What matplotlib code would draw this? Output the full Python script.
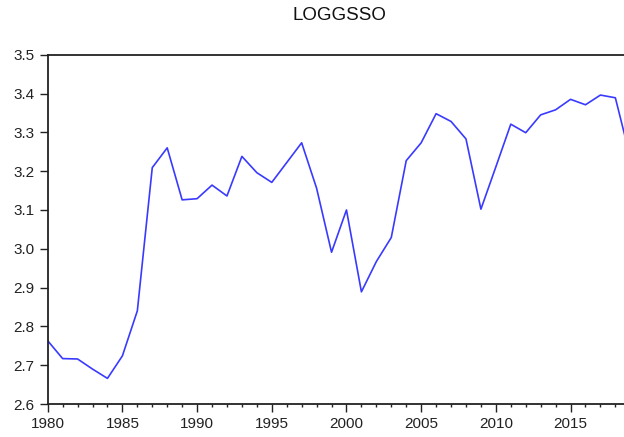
import matplotlib
matplotlib.use("Agg")
import matplotlib.pyplot as plt
from matplotlib.ticker import MultipleLocator, FormatStrFormatter

years = list(range(1980, 2020))
loggsso = [2.763, 2.717, 2.716, 2.690, 2.666, 2.724, 2.840, 3.209, 3.260, 3.126,
           3.129, 3.164, 3.136, 3.238, 3.196, 3.171, 3.222, 3.273, 3.156, 2.991,
           3.100, 2.889, 2.967, 3.029, 3.227, 3.273, 3.348, 3.328, 3.283, 3.102,
           3.211, 3.321, 3.299, 3.345, 3.358, 3.385, 3.371, 3.396, 3.389, 3.235]
title = "LOGGSSO"

plt.rcParams['font.family'] = ['Liberation Sans', 'DejaVu Sans']

W, H = 624, 437
fig = plt.figure(figsize=(W / 100, H / 100), dpi=100)
left, right, bottom, top = 47.7, 630.3, 404.0, 54.7
ax = fig.add_axes([left / W, (H - bottom) / H, (right - left) / W, (bottom - top) / H])

ax.plot(years, loggsso, color='#3a3aff', lw=1.2)
ax.set_xlim(1980, 2019)
ax.set_ylim(2.6, 3.5)
ax.xaxis.set_major_locator(MultipleLocator(5))
ax.xaxis.set_minor_locator(MultipleLocator(1))
ax.yaxis.set_major_locator(MultipleLocator(0.1))
ax.yaxis.set_major_formatter(FormatStrFormatter('%.1f'))

for s in ax.spines.values():
    s.set_color('#222222')
    s.set_linewidth(1.3)

ax.tick_params(axis='both', which='major', labelsize=11, colors='#222222', direction='out', width=1.0)
ax.tick_params(axis='x', which='major', length=5.5, pad=4)
ax.tick_params(axis='x', which='minor', length=2.5, width=1.0, color='#222222', direction='out')
ax.tick_params(axis='y', which='major', length=5.5, pad=4)
ax.tick_params(axis='y', which='minor', length=0)

fig.text(339 / W, 1 - 20.5 / H, title, ha='center', va='baseline', fontsize=13.5, color='#111111')

fig.savefig("out.png", dpi=100)
